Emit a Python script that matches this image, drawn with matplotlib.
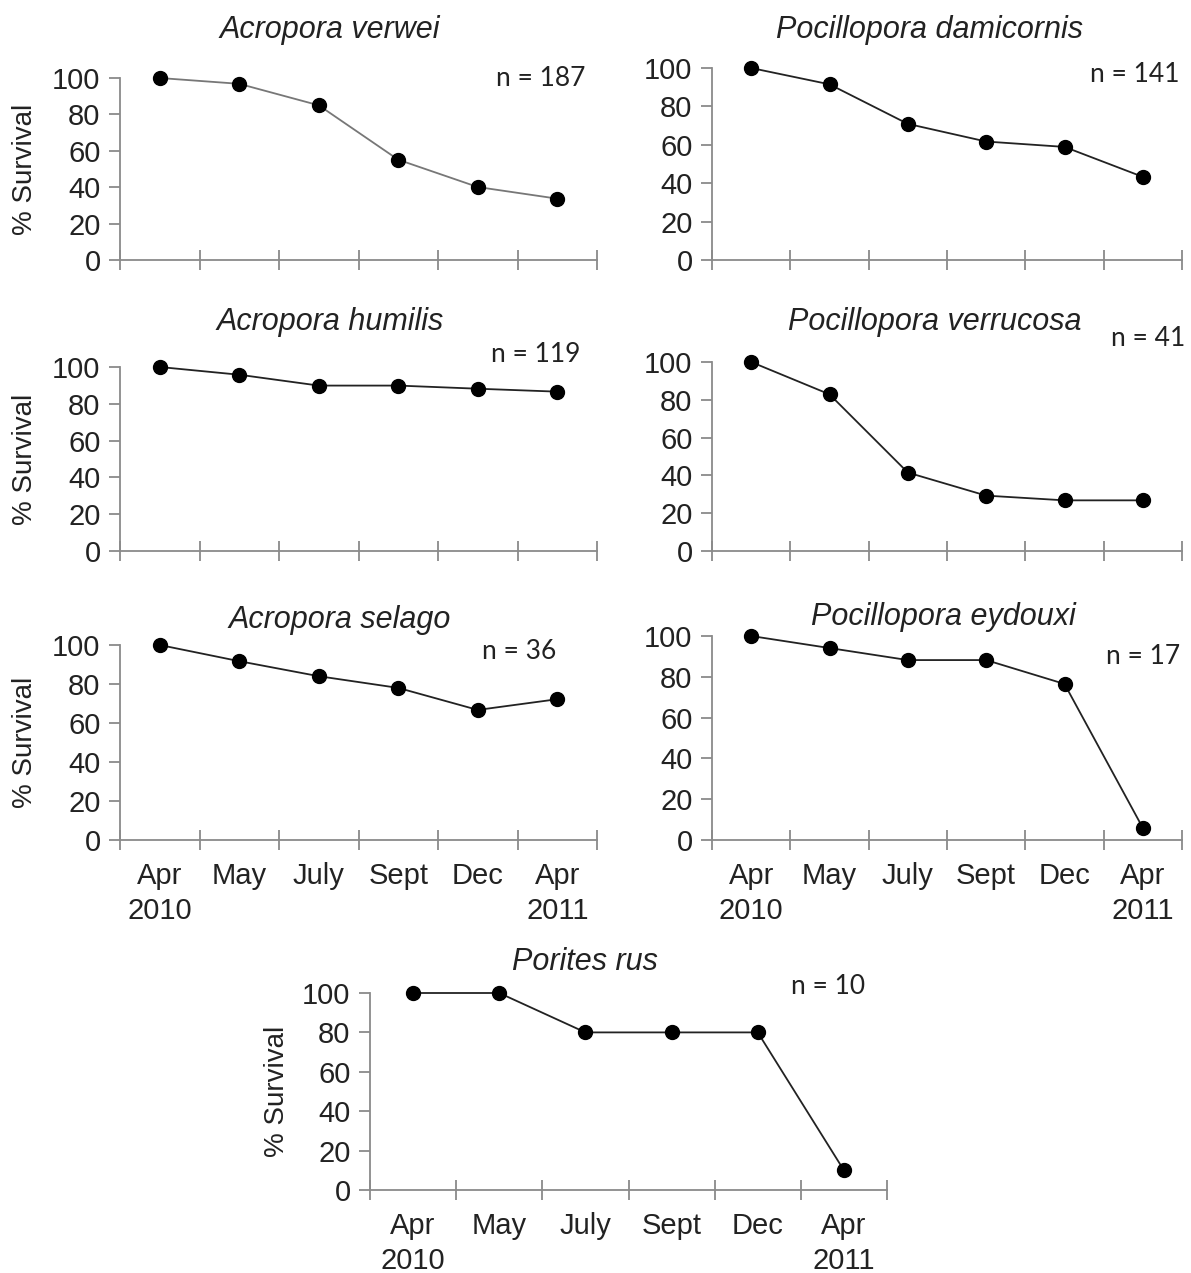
import matplotlib
matplotlib.use("Agg")
import matplotlib.pyplot as plt

plt.rcParams['font.family'] = ['Liberation Sans', 'DejaVu Sans']

months = ['Apr\n2010', 'May', 'July', 'Sept', 'Dec', 'Apr\n2011']

species = ['Acropora verwei', 'Pocillopora damicornis', 'Acropora humilis',
           'Pocillopora verrucosa', 'Acropora selago', 'Pocillopora eydouxi',
           'Porites rus']
n_counts = [187, 141, 119, 41, 36, 17, 10]

verwei = [100, 96.8, 85.0, 55.1, 40.1, 33.7]
damicornis = [100, 91.5, 70.9, 61.7, 58.9, 43.3]
humilis = [100, 95.8, 89.9, 89.9, 88.2, 86.6]
verrucosa = [100, 82.9, 41.5, 29.3, 26.8, 26.8]
selago = [100, 91.7, 84.0, 78.0, 66.7, 72.2]
eydouxi = [100, 94.1, 88.2, 88.2, 76.5, 5.9]
rus = [100, 100, 80, 80, 80, 10]

series = [verwei, damicornis, humilis, verrucosa, selago, eydouxi, rus]

W, H = 1191, 1273
fig = plt.figure(figsize=(W / 100, H / 100), dpi=100)

# axes boxes in pixels: left, right, bottom(y of 0), top(y of 100)
boxes = [(120, 597, 260, 78), (712, 1182, 260, 68),
         (120, 597, 551, 367), (712, 1182, 551, 362),
         (120, 597, 840, 645), (712, 1182, 840, 636),
         (370, 887, 1190, 993)]
title_pos = [(330, 30), (930, 30), (330, 322), (935, 322),
             (340, 620), (943, 617), (585, 962)]
n_pos = [(585, 78), (1180, 75), (580, 355), (1185, 338),
         (556, 652), (1180, 657), (865, 987)]
ylabel_x = [25, None, 25, None, 25, None, 277]
show_xlab = [False, False, False, False, True, True, True]

spine_col = '#8a8a8a'
x = list(range(len(months)))

for i in range(len(species)):
    l, r, b, t = boxes[i]
    ax = fig.add_axes([l / W, 1 - b / H, (r - l) / W, (b - t) / H])
    lc = '#777777' if i == 0 else '#222222'
    ax.plot(x, series[i], color=lc, lw=1.3, marker='o', ms=10,
            mfc='black', mec='black', clip_on=False, zorder=3)
    ax.set_xlim(-0.5, len(months) - 0.5)
    ax.set_ylim(0, 100)
    ax.set_yticks([0, 20, 40, 60, 80, 100])
    ax.set_xticks([k - 0.5 for k in range(len(months) + 1)])
    ax.set_xticklabels([])
    ax.set_xticks(x, minor=True)
    if show_xlab[i]:
        ax.set_xticklabels(months, minor=True, fontsize=21, color='#222222',
                           linespacing=1.3)
    ax.tick_params(axis='x', which='minor', length=0, pad=16)
    ax.tick_params(axis='x', which='major', direction='inout', length=14,
                   width=1.3, color=spine_col)
    ax.tick_params(axis='y', direction='out', length=8, width=1.3,
                   color=spine_col, labelsize=21, labelcolor='#222222', pad=6)
    for s in ['top', 'right']:
        ax.spines[s].set_visible(False)
    for s in ['left', 'bottom']:
        ax.spines[s].set_color(spine_col)
        ax.spines[s].set_linewidth(1.3)
    ax.patch.set_alpha(0)

    tx, ty = title_pos[i]
    fig.text(tx / W, 1 - ty / H, species[i], fontsize=22, style='italic',
             color='#222222', ha='center', va='center')
    nx, ny = n_pos[i]
    fig.text(nx / W, 1 - ny / H, 'n = %d' % n_counts[i], fontsize=19,
             family=['Lato', 'DejaVu Sans'], color='#222222',
             ha='right', va='center')
    if ylabel_x[i] is not None:
        fig.text(ylabel_x[i] / W, 1 - ((b + t) / 2) / H, '% Survival',
                 fontsize=20, rotation=90, color='#222222',
                 ha='center', va='center')

fig.savefig('out.png', dpi=100, facecolor='white')
